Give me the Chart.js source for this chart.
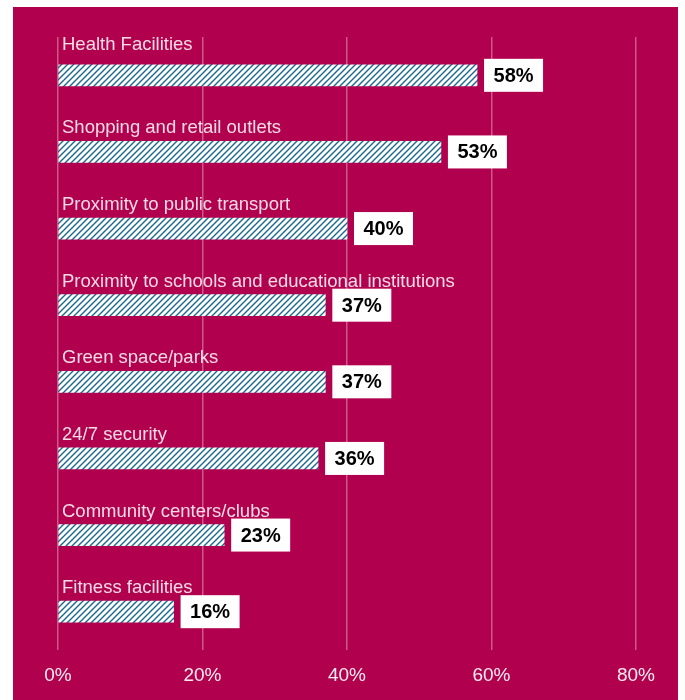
<!DOCTYPE html>
<html>
<head>
<meta charset="utf-8">
<script src="https://cdn.jsdelivr.net/npm/chart.js"></script>
<style>
  html, body { margin: 0; padding: 0; background: #fff; }
  #wrap { position: relative; width: 685px; height: 700px; }
</style>
</head>
<body>
<div id="wrap"><canvas id="amenityChart" width="685" height="700"></canvas></div>
<script>
// amenities chart

const categories = [
  'Health Facilities',
  'Shopping and retail outlets',
  'Proximity to public transport',
  'Proximity to schools and educational institutions',
  'Green space/parks',
  '24/7 security',
  'Community centers/clubs',
  'Fitness facilities'
];
const shares = [58, 53, 40, 37, 37, 36, 23, 16];
const tickValues = [0, 20, 40, 60, 80];

const FONT = '"Liberation Sans", Arial, sans-serif';

// hatched fill for bars
function makeHatch() {
  const size = 6;
  const c = document.createElement('canvas');
  c.width = size;
  c.height = size;
  const g = c.getContext('2d');
  g.fillStyle = '#fff';
  g.fillRect(0, 0, size, size);
  g.strokeStyle = '#176790';
  g.lineWidth = 1.4;
  g.beginPath();
  g.moveTo(-1, size + 1);
  g.lineTo(size + 1, -1);
  g.moveTo(-1, 1);
  g.lineTo(1, -1);
  g.moveTo(size - 1, size + 1);
  g.lineTo(size + 1, size - 1);
  g.stroke();
  return g.createPattern(c, 'repeat');
}

// magenta panel behind the chart
const panelBg = {
  id: 'panelBg',
  beforeDraw(chart) {
    const ctx = chart.ctx;
    ctx.save();
    ctx.fillStyle = '#b1004e';
    ctx.fillRect(13, 7, 665, 693);
    ctx.restore();
  }
};

// category names above bars + value boxes after bars
const barLabels = {
  id: 'barLabels',
  afterDatasetsDraw(chart) {
    const ctx = chart.ctx;
    const meta = chart.getDatasetMeta(0);
    ctx.save();
    meta.data.forEach((bar, i) => {
      const top = bar.y - bar.height / 2;
      ctx.font = '18.5px ' + FONT;
      ctx.fillStyle = 'rgba(255,255,255,0.86)';
      ctx.textAlign = 'left';
      ctx.textBaseline = 'alphabetic';
      const gap = i === 0 ? 15 : 8;
      ctx.fillText(categories[i], chart.chartArea.left + 4, top - gap);

      const bx = bar.x + 7;
      const bw = 59, bh = 33;
      ctx.fillStyle = '#fff';
      ctx.fillRect(bx, bar.y - bh / 2, bw, bh);
      ctx.fillStyle = '#000';
      ctx.font = 'bold 20px ' + FONT;
      ctx.textAlign = 'center';
      ctx.textBaseline = 'middle';
      ctx.fillText(shares[i] + '%', bx + bw / 2, bar.y + 1);
    });
    ctx.restore();
  }
};

const ctx = document.getElementById('amenityChart').getContext('2d');
new Chart(ctx, {
  type: 'bar',
  data: {
    labels: categories,
    datasets: [{
      data: shares,
      backgroundColor: makeHatch(),
      borderWidth: 0,
      barThickness: 21
    }]
  },
  options: {
    indexAxis: 'y',
    responsive: false,
    animation: false,
    layout: { padding: { left: 58, right: 49, top: 37, bottom: 13 } },
    scales: {
      x: {
        min: 0,
        max: 80,
        afterBuildTicks(scale) {
          scale.ticks = tickValues.map(v => ({ value: v }));
        },
        afterFit(scale) {
          scale.height = 37;
        },
        border: { display: false },
        grid: { color: 'rgba(255,255,255,0.35)', lineWidth: 1.5, drawTicks: false },
        ticks: {
          color: 'rgba(255,255,255,0.92)',
          padding: 14,
          font: { family: FONT, size: 19 },
          callback: v => v + '%'
        }
      },
      y: { display: false }
    },
    plugins: {
      legend: { display: false },
      tooltip: { enabled: false }
    }
  },
  plugins: [panelBg, barLabels]
});
</script>
</body>
</html>
